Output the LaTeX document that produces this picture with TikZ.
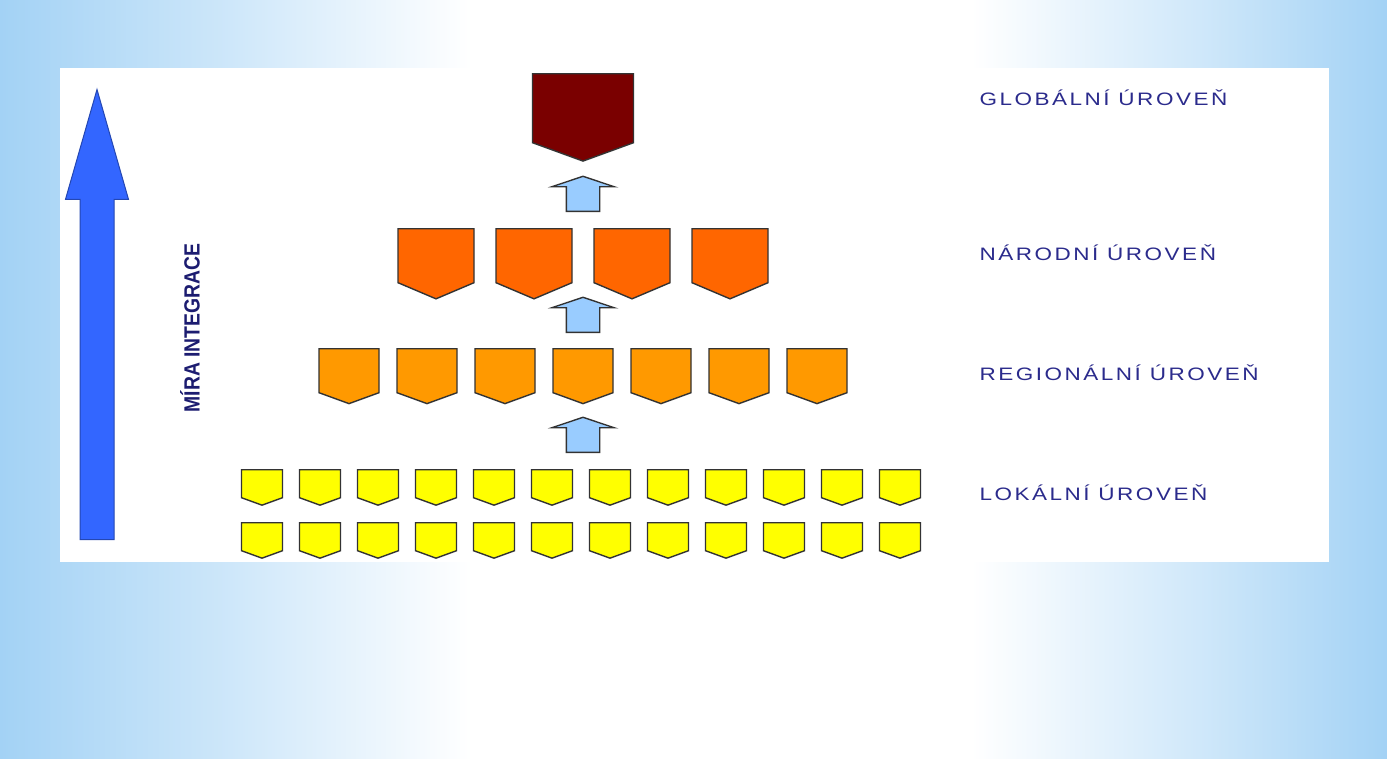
\documentclass[tikz,border=0pt]{standalone}
\usepackage{fontspec}
\setmainfont{Liberation Sans}
\newfontfamily\lvlfont[FakeStretch=1.25, LetterSpace=14]{Liberation Sans}
\usetikzlibrary{shapes.symbols, shapes.arrows, positioning}

\definecolor{bgblue}{HTML}{A3D2F5}
\definecolor{globred}{HTML}{7A0000}
\definecolor{natorange}{HTML}{FF6600}
\definecolor{regorange}{HTML}{FF9900}
\definecolor{locyellow}{HTML}{FFFF00}
\definecolor{arrowblue}{HTML}{99CCFF}
\definecolor{bigblue}{HTML}{3366FF}
\definecolor{lvltext}{HTML}{2B2B8C}
\definecolor{axistext}{HTML}{1C1C70}

\pgfdeclarehorizontalshading{slidebg}{100bp}{color(0bp)=(bgblue); color(25bp)=(bgblue); color(33bp)=(bgblue!55!white); color(42bp)=(white); color(60bp)=(white); color(68bp)=(bgblue!50!white); color(75bp)=(bgblue); color(100bp)=(bgblue)}

\tikzset{
  shield/.style={signal, signal to=south, signal from=nowhere, signal pointer angle=140, draw=black!80, line width=1.4pt, inner sep=0pt, anchor=north},
  globbox/.style={shield, fill=globred, minimum width=101pt, minimum height=69pt},
  natbox/.style={shield, fill=natorange, minimum width=76pt, minimum height=54pt, signal pointer angle=134},
  regbox/.style={shield, fill=regorange, minimum width=60pt, minimum height=44pt},
  locbox/.style={shield, fill=locyellow, minimum width=41pt, minimum height=28pt},
  uparrow/.style={single arrow, rotate=90, anchor=tail, fill=arrowblue, draw=black!80, line width=1.4pt, inner xsep=0pt, inner ysep=16pt, minimum width=61pt, minimum height=35pt, single arrow head extend=14.5pt, single arrow tip angle=143},
  lvllabel/.style={anchor=west, text=lvltext, font=\lvlfont\fontsize{18}{20}\selectfont}
}

\begin{document}
\begin{tikzpicture}[x=1pt, y=-1pt]
    \useasboundingbox (0,0) rectangle (1387,758);
    \shade[shading=slidebg] (0,0) rectangle (1387,758);
    \fill[white] (60,68) rectangle (1329,562);

    % big arrow on the left
    \node (integrace) [single arrow, rotate=90, anchor=tail, fill=bigblue, draw=bigblue!70!black, line width=1pt, inner xsep=0pt, inner ysep=16.5pt, minimum width=62pt, minimum height=450pt, single arrow head extend=14.5pt, single arrow tip angle=32] at (97,540) {};
    \node (miralabel) [rotate=90, text=axistext, font=\bfseries\fontsize{22}{24}\selectfont] at (190,328) {\scalebox{0.88}[1]{MÍRA INTEGRACE}};

    % levels
    \node (glob) [globbox] at (583,73) {};
    \foreach \i in {1,...,4}
        \node (nat\i) [natbox] at ({338+98*\i},228) {};
    \foreach \i in {1,...,7}
        \node (reg\i) [regbox] at ({271+78*\i},348) {};
    \foreach \i in {1,...,12} {
        \node (loca\i) [locbox] at ({204+58*\i},469) {};
        \node (locb\i) [locbox] at ({204+58*\i},522) {};
    }

    % arrows between levels
    \node (upglob) [uparrow] at (583,212) {};
    \node (upnat) [uparrow] at (583,333) {};
    \node (upreg) [uparrow] at (583,453) {};

    % level names
    \node (globlabel) [lvllabel] at (976,98) {GLOBÁLNÍ ÚROVEŇ};
    \node (natlabel) [lvllabel] at (976,253) {NÁRODNÍ ÚROVEŇ};
    \node (reglabel) [lvllabel] at (976,373) {REGIONÁLNÍ ÚROVEŇ};
    \node (loclabel) [lvllabel] at (976,493) {LOKÁLNÍ ÚROVEŇ};
\end{tikzpicture}
\end{document}
